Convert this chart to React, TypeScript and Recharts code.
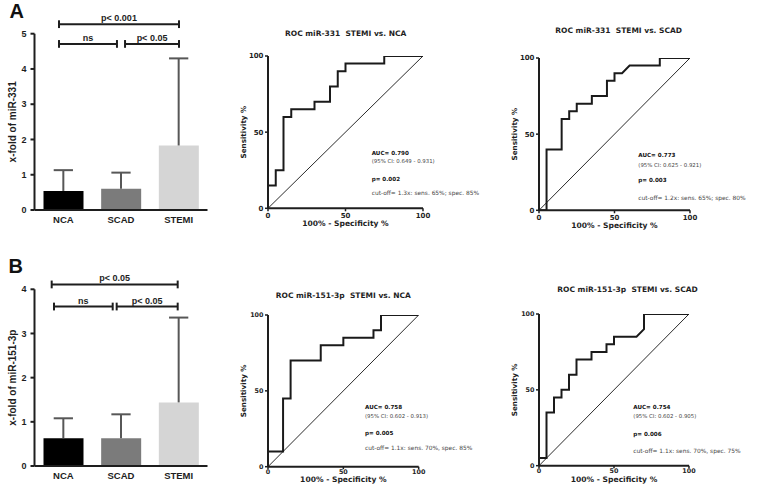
import React from 'react';
import { BarChart, Bar, XAxis, YAxis, ReferenceLine, LineChart, Line, Cell } from 'recharts';

// ---------------- data ----------------
const groups = ['NCA', 'SCAD', 'STEMI'];
const groupPos = [0.5, 1.5, 2.5];
const groupColors = ['#000000', '#7b7b7b', '#d5d5d5'];

const miR331Mean = [0.54, 0.6, 1.83];
const miR331Err = [0.59, 0.46, 2.47];
const yTicks331 = [0, 1, 2, 3, 4, 5];

const miR151Mean = [0.63, 0.63, 1.44];
const miR151Err = [0.45, 0.54, 1.92];
const yTicks151 = [0, 1, 2, 3, 4];

// significance brackets (x in group units 0..3, y in x-fold units)
const sigLabels331 = ['ns', 'p< 0.05', 'p< 0.001'];
const sigFrom331 = [0.425, 1.57, 0.425];
const sigTo331 = [1.43, 2.506, 2.506];
const sigLevel331 = [4.71, 4.71, 5.27];

const sigLabels151 = ['ns', 'p< 0.05', 'p< 0.05'];
const sigFrom151 = [0.338, 1.425, 0.298];
const sigTo151 = [1.356, 2.483, 2.483];
const sigLevel151 = [3.61, 3.61, 4.11];

// ROC curves: 100% - specificity (x) and sensitivity (y)
const rocTicks = [0, 50, 100];
const diagX = [0, 100];
const diagY = [0, 100];

const rocA1Fpr = [0, 0, 5, 5, 10, 10, 15, 15, 30, 30, 40, 40, 45, 45, 50, 50, 75, 75, 100];
const rocA1Tpr = [0, 15, 15, 25, 25, 60, 60, 65, 65, 70, 70, 80, 80, 90, 90, 95, 95, 100, 100];

const rocA2Fpr = [0, 5, 5, 15, 15, 20, 20, 25, 25, 35, 35, 45, 45, 50, 50, 55, 60, 80, 80, 100];
const rocA2Tpr = [0, 0, 40, 40, 60, 60, 65, 65, 70, 70, 75, 75, 85, 85, 90, 90, 95, 95, 100, 100];

const rocB1Fpr = [0, 0, 10, 10, 15, 15, 35, 35, 50, 50, 70, 70, 75, 75, 100];
const rocB1Tpr = [0, 10, 10, 45, 45, 70, 70, 80, 80, 85, 85, 90, 90, 100, 100];

const rocB2Fpr = [0, 0, 5, 5, 10, 10, 15, 15, 20, 20, 25, 25, 35, 35, 45, 45, 50, 50, 65, 70, 70, 100];
const rocB2Tpr = [0, 5, 5, 35, 35, 45, 45, 50, 50, 60, 60, 70, 70, 75, 75, 80, 80, 85, 85, 90, 100, 100];

const titleA1 = 'ROC miR-331  STEMI vs. NCA';
const titleA2 = 'ROC miR-331  STEMI vs. SCAD';
const titleB1 = 'ROC miR-151-3p  STEMI vs. NCA';
const titleB2 = 'ROC miR-151-3p  STEMI vs. SCAD';

const notesA1 = ['AUC= 0.790', '(95% CI: 0.649 - 0.931)', 'p= 0.002', 'cut-off= 1.3x: sens. 65%; spec. 85%'];
const notesA2 = ['AUC= 0.773', '(95% CI: 0.625 - 0.921)', 'p= 0.003', 'cut-off= 1.2x: sens. 65%; spec. 80%'];
const notesB1 = ['AUC= 0.758', '(95% CI: 0.602 - 0.913)', 'p= 0.005', 'cut-off= 1.1x: sens. 70%, spec. 85%'];
const notesB2 = ['AUC= 0.754', '(95% CI: 0.602 - 0.905)', 'p= 0.006', 'cut-off= 1.1x: sens. 70%, spec. 75%'];

// ---------------- styles ----------------
const INK = '#1e1e1e';
const ERR = '#575757';
const BAR_FONT = '"Liberation Sans", Arial, sans-serif';
const ROC_FONT = '"DejaVu Sans", sans-serif';

function BarPanel(props: any) {
  const { left, top, width, height, margin, means, errs, yMax, yTicks, yLabel, sigLabels, sigFrom, sigTo, sigLevel, labelOffset } = props;
  const data = groups.map((g, i) => ({ group: g, pos: groupPos[i], value: means[i] }));
  const endTick = yMax * 0.022;
  const capHalf = 0.167;
  return (
    <div style={{ position: 'absolute', left, top }}>
      <BarChart width={width} height={height} data={data} margin={margin}>
        <XAxis
          dataKey="pos"
          type="number"
          domain={[0, 3]}
          allowDataOverflow
          ticks={groupPos}
          interval={0}
          tickFormatter={(v: number) => groups[groupPos.indexOf(v)]}
          tickLine={false}
          tickSize={4}
          tickMargin={2.5}
          height={22}
          axisLine={{ stroke: INK, strokeWidth: 2 }}
          tick={{ fontSize: 9.5, fontWeight: 700, fill: INK, fontFamily: BAR_FONT }}
        />
        <YAxis
          domain={[0, yMax]}
          ticks={yTicks}
          interval={0}
          allowDataOverflow
          width={30}
          tickSize={4}
          tickMargin={4}
          axisLine={{ stroke: INK, strokeWidth: 2 }}
          tickLine={{ stroke: INK, strokeWidth: 2 }}
          tick={{ fontSize: 9, fontWeight: 700, fill: INK, fontFamily: BAR_FONT }}
          label={{
            value: yLabel,
            angle: -90,
            position: 'insideLeft',
            offset: labelOffset,
            style: { textAnchor: 'middle' },
            fontSize: 10,
            fontWeight: 700,
            fill: INK,
            fontFamily: BAR_FONT,
          }}
        />
        <Bar dataKey="value" barSize={40} isAnimationActive={false}>
          {data.map((d, i) => (
            <Cell key={d.group} fill={groupColors[i]} />
          ))}
        </Bar>
        {data.map((d, i) => (
          <ReferenceLine
            key={'ev' + i}
            ifOverflow="visible"
            segment={[{ x: d.pos, y: means[i] }, { x: d.pos, y: means[i] + errs[i] }]}
            stroke={ERR}
            strokeWidth={2}
          />
        ))}
        {data.map((d, i) => (
          <ReferenceLine
            key={'ec' + i}
            ifOverflow="visible"
            segment={[{ x: d.pos - capHalf, y: means[i] + errs[i] }, { x: d.pos + capHalf, y: means[i] + errs[i] }]}
            stroke={ERR}
            strokeWidth={2}
          />
        ))}
        {sigLabels.map((lab: string, i: number) => (
          <ReferenceLine
            key={'h' + i}
            ifOverflow="visible"
            segment={[{ x: sigFrom[i], y: sigLevel[i] }, { x: sigTo[i], y: sigLevel[i] }]}
            stroke={INK}
            strokeWidth={2}
            label={{ value: lab, position: 'top', offset: 3, fontSize: 9, fontWeight: 700, fill: INK, fontFamily: BAR_FONT }}
          />
        ))}
        {sigLabels.map((lab: string, i: number) => (
          <ReferenceLine
            key={'l' + i}
            ifOverflow="visible"
            segment={[{ x: sigFrom[i], y: sigLevel[i] - endTick }, { x: sigFrom[i], y: sigLevel[i] + endTick }]}
            stroke={INK}
            strokeWidth={2}
          />
        ))}
        {sigLabels.map((lab: string, i: number) => (
          <ReferenceLine
            key={'r' + i}
            ifOverflow="visible"
            segment={[{ x: sigTo[i], y: sigLevel[i] - endTick }, { x: sigTo[i], y: sigLevel[i] + endTick }]}
            stroke={INK}
            strokeWidth={2}
          />
        ))}
      </BarChart>
    </div>
  );
}

function RocPanel(props: any) {
  const { x0, x1, y0, y1, fpr, tpr, tickSize, tickMargin, tickFont, labelGap } = props;
  const padL = 40, padT = 40, padR = 60, padB = 32;
  const yAxisW = 28, xAxisH = 22;
  const curve = fpr.map((x: number, i: number) => ({ x, y: tpr[i] }));
  const diag = diagX.map((x, i) => ({ x, y: diagY[i] }));
  const tickStyle = { fontSize: tickFont, fontWeight: 700, fill: INK, fontFamily: ROC_FONT };
  return (
    <div style={{ position: 'absolute', left: x0 - padL, top: y0 - padT }}>
      <LineChart
        width={x1 - x0 + padL + padR}
        height={y1 - y0 + padT + padB}
        margin={{ top: padT, right: padR, left: padL - yAxisW, bottom: padB - xAxisH }}
      >
        <XAxis
          type="number"
          dataKey="x"
          domain={[0, 100]}
          ticks={rocTicks}
          interval={0}
          allowDataOverflow
          height={xAxisH}
          tickSize={tickSize}
          tickMargin={tickMargin}
          axisLine={{ stroke: INK, strokeWidth: 2 }}
          tickLine={{ stroke: INK, strokeWidth: 1.5 }}
          tick={tickStyle}
          label={{
            value: '100% - Specificity %',
            position: 'insideBottom',
            offset: xAxisH - labelGap,
            fontSize: 7.6,
            fontWeight: 700,
            fill: INK,
            fontFamily: ROC_FONT,
          }}
        />
        <YAxis
          type="number"
          dataKey="y"
          domain={[0, 100]}
          ticks={rocTicks}
          interval={0}
          allowDataOverflow
          width={yAxisW}
          tickSize={3}
          tickMargin={1.5}
          axisLine={{ stroke: INK, strokeWidth: 2 }}
          tickLine={{ stroke: INK, strokeWidth: 1.5 }}
          tick={tickStyle}
          label={{
            value: 'Sensitivity %',
            angle: -90,
            position: 'insideLeft',
            offset: 3,
            style: { textAnchor: 'middle' },
            fontSize: 7.2,
            fontWeight: 700,
            fill: INK,
            fontFamily: ROC_FONT,
          }}
        />
        <Line data={diag} dataKey="y" type="linear" stroke="#2a2a2a" strokeWidth={1} dot={false} activeDot={false} isAnimationActive={false} />
        <Line data={curve} dataKey="y" type="linear" stroke="#1a1a1a" strokeWidth={2} dot={false} activeDot={false} isAnimationActive={false} />
      </LineChart>
    </div>
  );
}

function Notes({ x, ys, lines }: { x: number; ys: number[]; lines: string[] }) {
  return (
    <g fontFamily={ROC_FONT}>
      <text x={x} y={ys[0]} fontSize={5.6} fontWeight={700} fill="#111">{lines[0]}</text>
      <text x={x} y={ys[1]} fontSize={5.4} fill="#444">{lines[1]}</text>
      <text x={x} y={ys[2]} fontSize={5.6} fontWeight={700} fill="#111">{lines[2]}</text>
      <text x={x} y={ys[3]} fontSize={5.9} fill="#444">{lines[3]}</text>
    </g>
  );
}

export default function App() {
  const titleStyle = { whiteSpace: 'pre' as const };
  return (
    <div style={{ position: 'absolute', left: 0, top: 0, width: 758, height: 494, overflow: 'hidden', background: '#ffffff' }}>
      <BarPanel
        left={0}
        top={0}
        width={230}
        height={245}
        margin={{ top: 33.7, right: 22.5, left: 4.5, bottom: 13 }}
        means={miR331Mean}
        errs={miR331Err}
        yMax={5}
        yTicks={yTicks331}
        yLabel="x-fold of miR-331"
        sigLabels={sigLabels331}
        sigFrom={sigFrom331}
        sigTo={sigTo331}
        sigLevel={sigLevel331}
        labelOffset={7.5}
      />
      <BarPanel
        left={0}
        top={250}
        width={230}
        height={244}
        margin={{ top: 39.3, right: 22.5, left: 4.5, bottom: 6 }}
        means={miR151Mean}
        errs={miR151Err}
        yMax={4}
        yTicks={yTicks151}
        yLabel="x-fold of miR-151-3p"
        sigLabels={sigLabels151}
        sigFrom={sigFrom151}
        sigTo={sigTo151}
        sigLevel={sigLevel151}
        labelOffset={7.5}
      />
      <RocPanel x0={268.3} x1={423.3} y0={56} y1={208.3} fpr={rocA1Fpr} tpr={rocA1Tpr} tickSize={3} tickMargin={2} tickFont={7} labelGap={17.5} />
      <RocPanel x0={539} x1={690} y0={57.7} y1={210} fpr={rocA2Fpr} tpr={rocA2Tpr} tickSize={3} tickMargin={2} tickFont={7} labelGap={17.5} />
      <RocPanel x0={268.3} x1={419} y0={315} y1={466.7} fpr={rocB1Fpr} tpr={rocB1Tpr} tickSize={2.5} tickMargin={0} tickFont={6.4} labelGap={15.6} />
      <RocPanel x0={539.3} x1={689.3} y0={314.3} y1={466} fpr={rocB2Fpr} tpr={rocB2Tpr} tickSize={2.5} tickMargin={0} tickFont={6.4} labelGap={15.9} />

      <svg width={758} height={494} style={{ position: 'absolute', left: 0, top: 0, pointerEvents: 'none' }}>
        <text x={9.5} y={17.5} fontSize={20} fontWeight={700} fontFamily={BAR_FONT} fill="#111">A</text>
        <text x={8.5} y={273} fontSize={20} fontWeight={700} fontFamily={BAR_FONT} fill="#111">B</text>

        <g fontFamily={ROC_FONT} fontSize={7.5} fontWeight={700} fill={INK} textAnchor="middle">
          <text x={345.7} y={35.8} style={titleStyle}>{titleA1}</text>
          <text x={618.7} y={33} style={titleStyle}>{titleA2}</text>
          <text x={343.3} y={297.8} style={titleStyle}>{titleB1}</text>
          <text x={627.5} y={292} style={titleStyle}>{titleB2}</text>
        </g>

        <Notes x={371.7} ys={[155, 163, 180.5, 195]} lines={notesA1} />
        <Notes x={638.3} ys={[157, 166.5, 182, 199.5]} lines={notesA2} />
        <Notes x={365} ys={[408.7, 418, 435.3, 449.7]} lines={notesB1} />
        <Notes x={633.3} ys={[408.7, 418, 436, 453]} lines={notesB2} />
      </svg>
    </div>
  );
}
